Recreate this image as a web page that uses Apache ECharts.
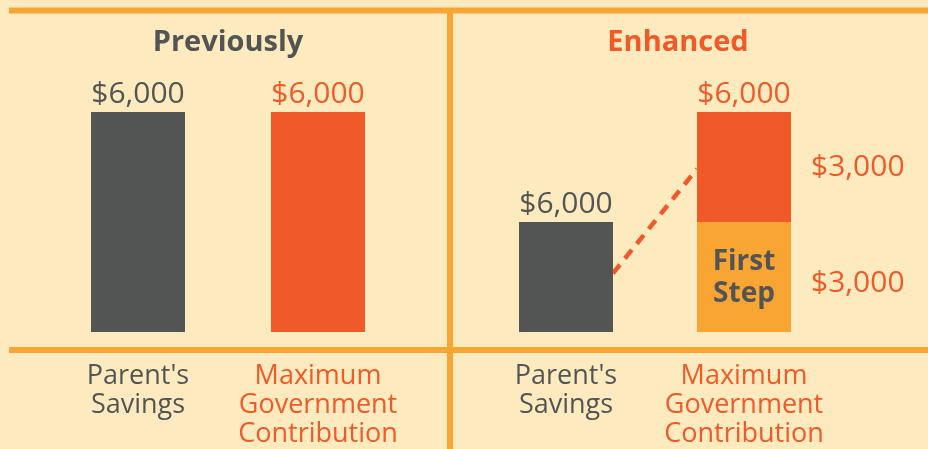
<!DOCTYPE html>
<html>
<head>
<meta charset="utf-8">
<script src="https://cdn.jsdelivr.net/npm/echarts@6/dist/echarts.min.js"></script>
<style>
html,body{margin:0;padding:0;background:#FDEBBF;}
#main{width:928px;height:449px;}
</style>
</head>
<body>
<div id="main"></div>
<script>
// data
const categories = ["Parent's\nSavings", 'Maximum\nGovernment\nContribution'];
const panelTitles = ['Previously', 'Enhanced'];
const previousValues = [6000, 6000];
const parentSavings = 6000;                 // label on the enhanced grey bar
const enhancedParentBar = [3000, '-'];      // drawn at half height in the picture
const enhancedFirstStep = ['-', 3000];
const enhancedTopUp = ['-', 3000];
const enhancedTotal = ['-', 6000];
const firstStepText = 'First\nStep';
const connectorFrom = 1600;   // level where the dashed line leaves the grey bar
const connectorTo = 4450;     // level where it meets the stacked bar

const GREY = '#535554', RED = '#F05A28', ORANGE = '#F9A533', BG = '#FDEBBF';
const FONT = 'Open Sans';
const BAR_W = 94;

const money = v => '$' + Number(v).toLocaleString('en-US');

let myChart = echarts.init(document.getElementById('main'));

const xAxisBase = function(idx){
	return {
		type: 'category',
		gridIndex: idx,
		data: categories.map((c, i) => ({
			value: c,
			textStyle: {color: i === 0 ? GREY : RED}
		})),
		axisLine: {show: false},
		axisTick: {show: false},
		axisLabel: {
			fontFamily: FONT,
			fontSize: 27,
			lineHeight: 29,
			margin: 30,
			interval: 0
		}
	};
};
const yAxisBase = function(idx){
	return {type: 'value', gridIndex: idx, min: 0, max: 6000, show: false};
};
const valueLabel = function(color){
	return {
		show: true,
		position: 'top',
		distance: 3,
		fontFamily: FONT,
		fontSize: 30,
		color: color
	};
};

let option = {
	backgroundColor: BG,
	animation: false,
	grid: [
		{left: 48, width: 360, top: 112, bottom: 115},
		{left: 477, width: 356, top: 112, bottom: 115}
	],
	xAxis: [xAxisBase(0), xAxisBase(1)],
	yAxis: [yAxisBase(0), yAxisBase(1)],
	series: [
		{
			name: 'Previously',
			type: 'bar',
			xAxisIndex: 0, yAxisIndex: 0,
			barWidth: BAR_W,
			data: previousValues.map((v, i) => ({
				value: v,
				itemStyle: {color: i === 0 ? GREY : RED},
				label: {color: i === 0 ? GREY : RED}
			})),
			label: Object.assign(valueLabel(GREY), {formatter: p => money(p.value)})
		},
		{
			name: "Parent's Savings",
			type: 'bar',
			xAxisIndex: 1, yAxisIndex: 1,
			stack: 'e', barWidth: BAR_W, barGap: '-100%',
			data: enhancedParentBar,
			itemStyle: {color: GREY},
			label: Object.assign(valueLabel(GREY), {formatter: () => money(parentSavings)})
		},
		{
			name: 'First Step',
			type: 'bar',
			xAxisIndex: 1, yAxisIndex: 1,
			stack: 'e', barWidth: BAR_W, barGap: '-100%',
			data: enhancedFirstStep,
			itemStyle: {color: ORANGE},
			label: {
				show: true,
				position: 'inside',
				offset: [0, 1],
				formatter: firstStepText,
				fontFamily: FONT,
				fontWeight: 'bold',
				fontSize: 28,
				lineHeight: 32,
				color: GREY
			}
		},
		{
			name: 'Top-up',
			type: 'bar',
			xAxisIndex: 1, yAxisIndex: 1,
			stack: 'e', barWidth: BAR_W, barGap: '-100%',
			data: enhancedTopUp,
			itemStyle: {color: RED},
			label: {
				show: true,
				position: 'right',
				distance: 20,
				formatter: p => money(p.value),
				fontFamily: FONT,
				fontSize: 30,
				color: RED
			}
		},
		{
			// invisible overlay only carrying the total label
			name: 'Total',
			type: 'bar',
			xAxisIndex: 1, yAxisIndex: 1,
			barWidth: BAR_W, barGap: '-100%',
			data: enhancedTotal,
			itemStyle: {color: 'rgba(0,0,0,0)'},
			label: Object.assign(valueLabel(RED), {formatter: p => money(p.value)})
		},
		{
			// invisible overlay only carrying the side label of the first step
			name: 'First Step side',
			type: 'bar',
			xAxisIndex: 1, yAxisIndex: 1,
			barWidth: BAR_W, barGap: '-100%',
			data: enhancedFirstStep,
			itemStyle: {color: 'rgba(0,0,0,0)'},
			label: {
				show: true,
				position: 'right',
				distance: 20,
				offset: [0, 6],
				formatter: p => money(p.value),
				fontFamily: FONT,
				fontSize: 30,
				color: RED
			}
		}
	]
};
myChart.setOption(option);

// frame lines, titles and the dashed connector
const x0 = myChart.convertToPixel({xAxisIndex: 1}, categories[0]) + BAR_W / 2;
const x1 = myChart.convertToPixel({xAxisIndex: 1}, categories[1]) - BAR_W / 2;
const y0 = myChart.convertToPixel({yAxisIndex: 1}, connectorFrom);
const y1 = myChart.convertToPixel({yAxisIndex: 1}, connectorTo);

const frameLine = (a, b, c, d) => ({
	type: 'line',
	silent: true,
	shape: {x1: a, y1: b, x2: c, y2: d},
	style: {stroke: ORANGE, lineWidth: 6}
});
const titleText = (x, text, color) => ({
	type: 'text',
	x: x, y: 43,
	style: {
		text: text,
		align: 'center',
		verticalAlign: 'middle',
		fontFamily: FONT,
		fontWeight: 'bold',
		fontSize: 29,
		fill: color
	}
});

myChart.setOption({
	graphic: [
		frameLine(9, 10.5, 928, 10.5),
		frameLine(450, 10.5, 450, 449),
		frameLine(9, 350, 928, 350),
		titleText(228, panelTitles[0], GREY),
		titleText(678, panelTitles[1], RED),
		{
			type: 'line',
			silent: true,
			shape: {x1: x0, y1: y0, x2: x1, y2: y1},
			style: {stroke: RED, lineWidth: 4.5, lineDash: [11, 8]}
		}
	]
});
</script>
</body>
</html>
